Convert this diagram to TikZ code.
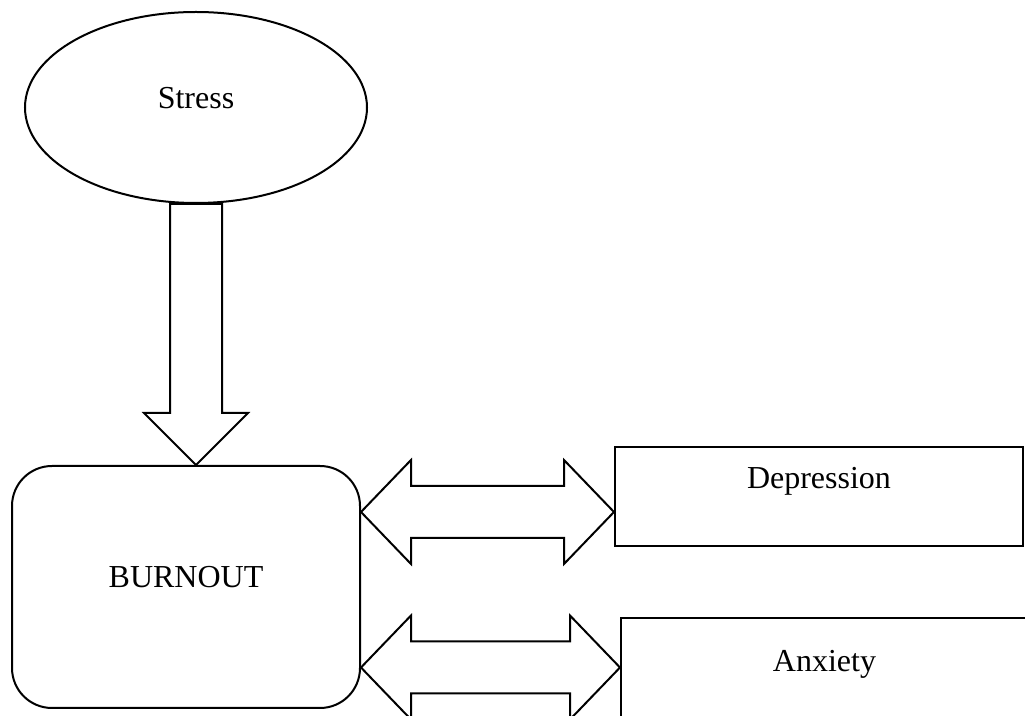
\documentclass[tikz,border=0pt]{standalone}
\usepackage{fontspec}
\setmainfont{Liberation Serif}
\usetikzlibrary{positioning,shapes.geometric,calc}
% hollow block arrows, sizes in px of the figure
\newcommand{\dblarr}[2]{\draw[blk] (#1) -- ++(50,-52) -- ++(0,26) -- ($(#2)+(-50,-26)$) -- ++(0,-26) -- (#2) -- ++(-50,52) -- ++(0,-26) -- ($(#1)+(50,26)$) -- ++(0,26) -- cycle;}
\newcommand{\downarr}[2]{\draw[blk] ($(#1)+(-26,0)$) -- ($(#2)+(-26,-52)$) -- ++(-26,0) -- (#2) -- ++(52,-52) -- ++(-26,0) -- ($(#1)+(26,0)$) -- cycle;}

\begin{document}
\begin{tikzpicture}[x=0.5pt, y=-0.5pt, font=\fontsize{16}{19}\selectfont, line width=1pt,
  oval/.style={draw, ellipse, minimum width=171pt, minimum height=95.5pt, inner sep=0pt},
  rbox/.style={draw, rounded corners=20pt, minimum width=174pt, minimum height=121pt, inner sep=0pt},
  box/.style={draw, rectangle, minimum width=204pt, minimum height=49.5pt, inner sep=0pt},
  blk/.style={draw, fill=white, line join=miter}]
\clip (0,0) rectangle (1025,716);
\node[oval, label={[yshift=4.5pt]center:Stress}] (stress) at (196,107.5) {};
\node[rbox, label={[yshift=5pt]center:BURNOUT}] (burnout) at (186,587) {};
\node[box, label={[yshift=7.5pt]center:Depression}] (depression) at (819,496.5) {};
\node[box, minimum width=203.5pt, label={[yshift=1.5pt]center:Anxiety}] (anxiety) at (824.5,667.5) {};
\coordinate (t1) at ([yshift=-7.75pt]depression.west);
\coordinate (s1) at (burnout.east |- t1);
\coordinate (s2) at (burnout.east |- anxiety.west);
\coordinate (down) at (stress.south |- burnout.north);
\downarr{stress.south}{down}
\foreach \a/\b in {s1/t1, s2/anxiety.west} \dblarr{\a}{\b};
\end{tikzpicture}
\end{document}
